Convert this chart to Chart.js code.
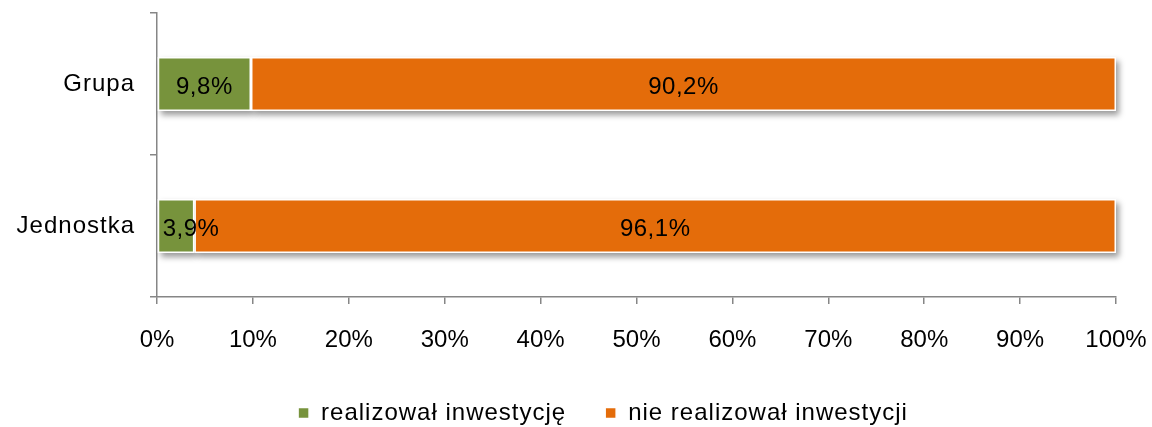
<!DOCTYPE html>
<html lang="pl">
<head>
<meta charset="utf-8">
<title>Realizacja inwestycji</title>
<script src="https://cdn.jsdelivr.net/npm/chart.js@4/dist/chart.umd.min.js"></script>
<style>
  html, body { margin: 0; padding: 0; background: #fff; }
  #wrap { width: 1152px; height: 427px; }
</style>
</head>
<body>
<div id="wrap"><canvas id="inwestycje"></canvas></div>
<script>
const categories = ['Grupa', 'Jednostka']
const realizowal = [9.8, 3.9]
const nieRealizowal = [90.2, 96.1]
const xTicks = [0, 10, 20, 30, 40, 50, 60, 70, 80, 90, 100]

const axisGrey = '#868686'

Chart.defaults.font.family = '"Liberation Sans", Arial, sans-serif'
Chart.defaults.font.size = 24
Chart.defaults.color = '#000'

// x axis labels are drawn without the extra tracking used for the other texts
class PlainLinearScale extends Chart.LinearScale {
    drawLabels(area) {
        const ctx = this.ctx
        ctx.save()
        ctx.letterSpacing = '0px'
        super.drawLabels(area)
        ctx.restore()
    }
}
PlainLinearScale.id = 'plainLinear'
PlainLinearScale.defaults = Chart.LinearScale.defaults
Chart.register(PlainLinearScale)

const tracking = {
    id: 'tracking',
    beforeUpdate(chart) { chart.ctx.letterSpacing = '1px' },
    beforeDraw(chart) { chart.ctx.letterSpacing = '1px' }
}

// legend sits lower and a bit right of the default box; the x scale box
// is stretched down so its labels are not clipped
const legendPlacement = {
    id: 'legendPlacement',
    afterLayout(chart) {
        const legend = chart.legend
        const xScale = chart.scales.x
        const h = legend.bottom - legend.top
        legend.top = 362
        legend.bottom = 362 + h
        legend.left += 45
        legend.right += 45
        xScale.bottom = 362
        xScale.height = xScale.bottom - xScale.top
    }
}

// soft drop shadow behind each bar segment
const barShadow = {
    id: 'barShadow',
    beforeDatasetsDraw(chart) {
        const ctx = chart.ctx
        ctx.save()
        ctx.shadowColor = 'rgba(0, 0, 0, 0.4)'
        ctx.shadowBlur = 6
        ctx.shadowOffsetX = 3
        ctx.shadowOffsetY = 4
        ctx.fillStyle = '#fff'
        chart.data.datasets.forEach((ds, di) => {
            chart.getDatasetMeta(di).data.forEach((bar) => {
                const left = Math.min(bar.base, bar.x)
                ctx.fillRect(left, bar.y - bar.height / 2, Math.abs(bar.x - bar.base), bar.height)
            })
        })
        ctx.restore()
    }
}

const barValueLabels = {
    id: 'barValueLabels',
    afterDatasetsDraw(chart) {
        const ctx = chart.ctx
        ctx.save()
        ctx.font = '24px "Liberation Sans", Arial, sans-serif'
        ctx.letterSpacing = '0.5px'
        ctx.fillStyle = '#000'
        ctx.textAlign = 'center'
        ctx.textBaseline = 'middle'
        chart.data.datasets.forEach((ds, di) => {
            chart.getDatasetMeta(di).data.forEach((bar, i) => {
                const text = ds.data[i].toFixed(1).replace('.', ',') + '%'
                const w = ctx.measureText(text).width
                const left = Math.min(bar.base, bar.x)
                const cx = Math.max((bar.base + bar.x) / 2, left + 5 + w / 2)
                ctx.fillText(text, cx, bar.y + 3)
            })
        })
        ctx.restore()
    }
}

const ctx = document.getElementById('inwestycje').getContext('2d')

new Chart(ctx, {
    type: 'bar',
    data: {
        labels: categories,
        datasets: [{
            label: 'realizował inwestycję',
            data: [...realizowal],
            backgroundColor: '#77933C',
            borderColor: '#fff',
            borderWidth: 1.5,
            borderSkipped: false,
            barPercentage: 0.38,
            categoryPercentage: 1
        },
        {
            label: 'nie realizował inwestycji',
            data: [...nieRealizowal],
            backgroundColor: '#E46C0A',
            borderColor: '#fff',
            borderWidth: 1.5,
            borderSkipped: false,
            barPercentage: 0.38,
            categoryPercentage: 1
        }]
    },
    options: {
        indexAxis: 'y',
        responsive: true,
        maintainAspectRatio: false,
        animation: false,
        layout: {
            padding: { top: 13, right: 36, bottom: 0, left: 0 }
        },
        scales: {
            x: {
                type: 'plainLinear',
                stacked: true,
                min: 0,
                max: 100,
                afterBuildTicks: (scale) => {
                    scale.ticks = xTicks.map((v) => ({ value: v }))
                },
                ticks: {
                    padding: 22,
                    callback: (v) => v + '%'
                },
                grid: {
                    drawOnChartArea: false,
                    tickLength: 7,
                    color: axisGrey,
                    lineWidth: 1.5
                },
                border: { color: axisGrey, width: 1.5 },
                afterFit: (scale) => {
                    scale.height = 57
                    scale.paddingLeft = 0
                    scale.paddingRight = 0
                }
            },
            y: {
                stacked: true,
                ticks: { padding: 15 },
                grid: {
                    drawOnChartArea: false,
                    offset: true,
                    tickLength: 7,
                    color: axisGrey,
                    lineWidth: 1.5
                },
                border: { color: axisGrey, width: 1.5 },
                afterFit: (scale) => {
                    scale.width = 157
                    scale.paddingTop = 0
                    scale.paddingBottom = 0
                }
            }
        },
        plugins: {
            legend: {
                position: 'bottom',
                labels: {
                    boxWidth: 11,
                    boxHeight: 11,
                    padding: 39,
                    font: { size: 24 }
                }
            },
            tooltip: { enabled: false }
        }
    },
    plugins: [tracking, legendPlacement, barShadow, barValueLabels]
})
</script>
</body>
</html>
